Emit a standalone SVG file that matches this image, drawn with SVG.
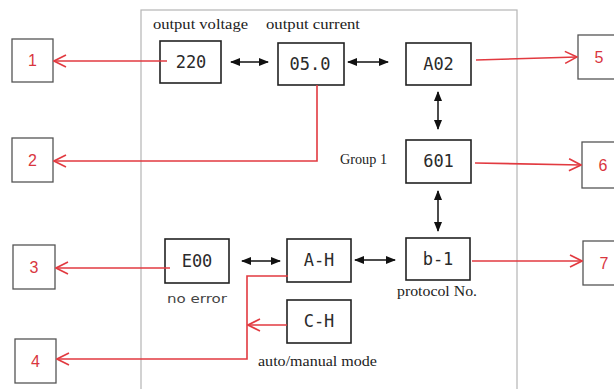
<svg xmlns="http://www.w3.org/2000/svg" width="614" height="389" viewBox="0 0 614 389">
<style>
.lcd{fill:#fff;stroke:#222;stroke-width:1.6}
.num{fill:#fff;stroke:#555;stroke-width:1.3}
.dig{font-family:"DejaVu Sans Mono",monospace;font-size:17px;fill:#2a2a2a;text-anchor:middle}
.nt{font-family:"Liberation Sans",Arial,sans-serif;font-size:16px;fill:#d9363e;text-anchor:middle}
.lb{font-family:"Liberation Serif","Times New Roman",serif;font-size:14px;fill:#222}
.red{fill:none;stroke:#e23a40;stroke-width:1.6}
.blk{fill:none;stroke:#111;stroke-width:1.5}
</style>
<defs>
<marker id="ro" markerUnits="userSpaceOnUse" viewBox="0 0 14 14" refX="13" refY="7" markerWidth="14" markerHeight="14" orient="auto">
<path d="M1,1 L13,7 L1,13" fill="none" stroke="#e23a40" stroke-width="1.6"/>
</marker>
<marker id="bk" markerUnits="userSpaceOnUse" viewBox="0 0 10 10" refX="9" refY="5" markerWidth="10" markerHeight="10" orient="auto-start-reverse">
<path d="M0,1 L10,5 L0,9 Z" fill="#111"/>
</marker>
</defs>
<rect width="614" height="389" fill="#fff"/>
<rect x="141" y="10" width="376" height="400" fill="none" stroke="#b5b5b5" stroke-width="1.2"/>

<g id="labels">
<text class="lb" x="153" y="29" textLength="95" lengthAdjust="spacingAndGlyphs">output voltage</text>
<text class="lb" x="266" y="29" textLength="94" lengthAdjust="spacingAndGlyphs">output current</text>
<text class="lb" x="340" y="164" textLength="47" lengthAdjust="spacingAndGlyphs">Group 1</text>
<text x="167" y="303" font-family="DejaVu Sans,Verdana,sans-serif" font-size="12.5" fill="#444" textLength="60" lengthAdjust="spacingAndGlyphs">no error</text>
<text class="lb" x="397" y="296" textLength="80" lengthAdjust="spacingAndGlyphs">protocol No.</text>
<text class="lb" x="258" y="366" textLength="119" lengthAdjust="spacingAndGlyphs">auto/manual mode</text>
</g>

<g id="n220"><rect class="lcd" x="160" y="41" width="61" height="42"/><text class="dig" x="191" y="68">220</text></g>
<g id="n050"><rect class="lcd" x="278" y="43" width="66" height="42"/><text class="dig" x="310" y="70">05.0</text></g>
<g id="nA02"><rect class="lcd" x="406" y="43" width="65" height="42"/><text class="dig" x="438.5" y="70">A02</text></g>
<g id="n601"><rect class="lcd" x="406" y="140" width="65" height="43"/><text class="dig" x="438.5" y="167">601</text></g>
<g id="nb1"><rect class="lcd" x="406" y="238" width="64" height="42"/><text class="dig" x="438" y="265">b-1</text></g>
<g id="nAH"><rect class="lcd" x="287" y="239" width="64" height="43"/><text class="dig" x="319" y="266">A-H</text></g>
<g id="nE00"><rect class="lcd" x="165" y="239" width="64" height="44"/><text class="dig" x="197" y="267">E00</text></g>
<g id="nCH"><rect class="lcd" x="287" y="300" width="64" height="43"/><text class="dig" x="319" y="327">C-H</text></g>

<g id="b1"><rect class="num" x="12" y="39" width="41" height="43"/><text class="nt" x="32.5" y="66">1</text></g>
<g id="b2"><rect class="num" x="12" y="138" width="41" height="44"/><text class="nt" x="32.5" y="166">2</text></g>
<g id="b3"><rect class="num" x="13" y="245" width="42" height="44"/><text class="nt" x="34" y="273">3</text></g>
<g id="b4"><rect class="num" x="15" y="339" width="41" height="44"/><text class="nt" x="35.5" y="367">4</text></g>
<g id="b5"><rect class="num" x="578" y="35" width="42" height="44"/><text class="nt" x="599" y="63">5</text></g>
<g id="b6"><rect class="num" x="582" y="142" width="42" height="46"/><text class="nt" x="603" y="171">6</text></g>
<g id="b7"><rect class="num" x="583" y="241" width="42" height="44"/><text class="nt" x="604" y="269">7</text></g>

<g id="connectors">
<path class="red" d="M167,61 L54,61" marker-end="url(#ro)"/>
<path class="red" d="M317,85 L317,161 L54,161" marker-end="url(#ro)"/>
<path class="red" d="M476,60 L577,57" marker-end="url(#ro)"/>
<path class="red" d="M475,163 L581,165" marker-end="url(#ro)"/>
<path class="red" d="M170,268 L56,268" marker-end="url(#ro)"/>
<path class="red" d="M472,261 L582,261" marker-end="url(#ro)"/>
<path class="red" d="M288,276 L247,276 L247,359 L57,359" marker-end="url(#ro)"/>
<path class="red" d="M287,325 L248,325" marker-end="url(#ro)"/>
<path class="blk" d="M231,62 L268,62" marker-start="url(#bk)" marker-end="url(#bk)"/>
<path class="blk" d="M348,62 L388,62" marker-start="url(#bk)" marker-end="url(#bk)"/>
<path class="blk" d="M438,92 L438,129" marker-start="url(#bk)" marker-end="url(#bk)"/>
<path class="blk" d="M438,191 L438,231" marker-start="url(#bk)" marker-end="url(#bk)"/>
<path class="blk" d="M242,261 L280,261" marker-start="url(#bk)" marker-end="url(#bk)"/>
<path class="blk" d="M355,260 L395,260" marker-start="url(#bk)" marker-end="url(#bk)"/>
</g>
</svg>
